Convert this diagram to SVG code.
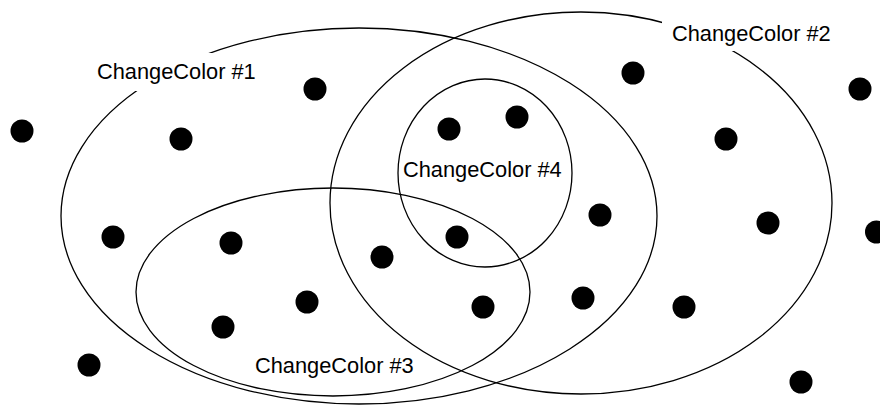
<svg xmlns="http://www.w3.org/2000/svg" width="880" height="409" viewBox="0 0 880 409">
<style>
.set{fill:none;stroke:#000;stroke-width:1.3}
.lbl{font-family:"Liberation Sans",Arial,sans-serif;font-size:21.8px;fill:#000}
.bg{fill:#fff;stroke:none}
.dot{fill:#000}
</style>
<rect width="880" height="409" fill="#fff"/>
<g id="sets">
<g id="set1"><ellipse class="set" cx="359" cy="216" rx="298" ry="188"/></g>
<g id="set2"><ellipse class="set" cx="581" cy="203" rx="251" ry="191"/></g>
<g id="set3"><ellipse class="set" cx="333" cy="292" rx="197" ry="104"/></g>
<g id="set4"><ellipse class="set" cx="485" cy="173" rx="87" ry="94"/></g>
</g>
<g id="labels">
<g id="label1"><rect class="bg" x="90" y="53" width="172" height="38"/><text class="lbl" x="97" y="79">ChangeColor #1</text></g>
<g id="label2"><rect class="bg" x="662" y="18" width="178" height="33"/><text class="lbl" x="672" y="41">ChangeColor #2</text></g>
<g id="label3"><text class="lbl" x="255" y="373">ChangeColor #3</text></g>
<g id="label4"><text class="lbl" x="403" y="177">ChangeColor #4</text></g>
</g>
<g id="dots">
<circle class="dot" cx="315" cy="89" r="11.5"/>
<circle class="dot" cx="22" cy="131" r="11.5"/>
<circle class="dot" cx="181" cy="139" r="11.5"/>
<circle class="dot" cx="449" cy="129" r="11.5"/>
<circle class="dot" cx="517" cy="117" r="11.5"/>
<circle class="dot" cx="633" cy="73" r="11.5"/>
<circle class="dot" cx="860" cy="89" r="11.5"/>
<circle class="dot" cx="726" cy="139" r="11.5"/>
<circle class="dot" cx="113" cy="237" r="11.5"/>
<circle class="dot" cx="231" cy="243" r="11.5"/>
<circle class="dot" cx="382" cy="257" r="11.5"/>
<circle class="dot" cx="307" cy="302" r="11.5"/>
<circle class="dot" cx="223" cy="327" r="11.5"/>
<circle class="dot" cx="89" cy="365" r="11.5"/>
<circle class="dot" cx="600" cy="215" r="11.5"/>
<circle class="dot" cx="457" cy="237" r="11.5"/>
<circle class="dot" cx="768" cy="223" r="11.5"/>
<circle class="dot" cx="876.5" cy="232" r="11.5"/>
<circle class="dot" cx="483" cy="307" r="11.5"/>
<circle class="dot" cx="583" cy="298" r="11.5"/>
<circle class="dot" cx="684" cy="307" r="11.5"/>
<circle class="dot" cx="801" cy="382" r="11.5"/>
</g>
</svg>
